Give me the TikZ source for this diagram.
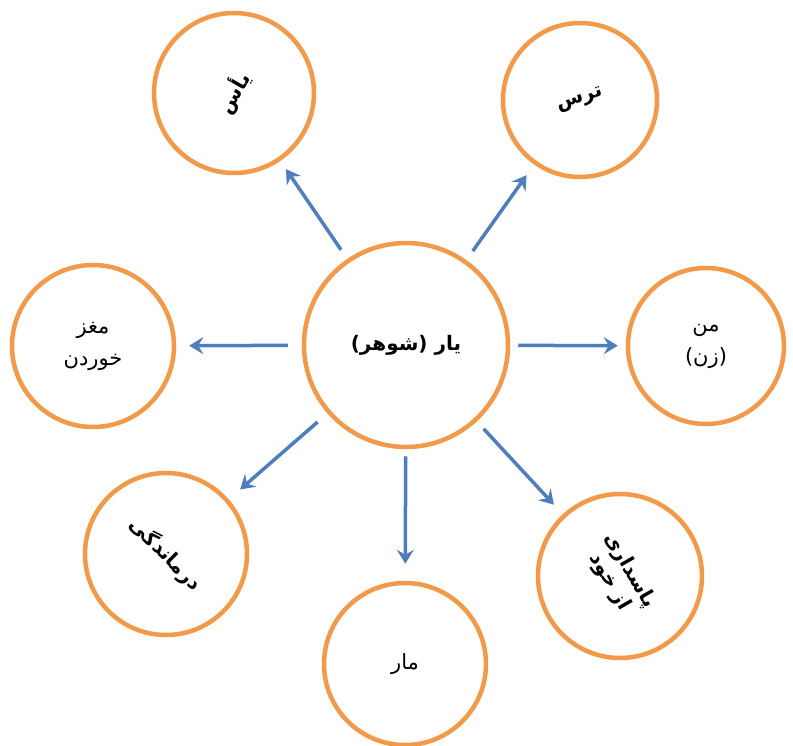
\documentclass[tikz,border=0pt]{standalone}
\usepackage{fontspec}
\TeXXeTstate=1
\newfontfamily\arabicfont[Script=Arabic]{DejaVu Sans}
\usetikzlibrary{arrows.meta}
\definecolor{corange}{HTML}{F39A4A}
\definecolor{cblue}{HTML}{4F7EBD}
\begin{document}
\begin{tikzpicture}[x=1pt,y=-1pt,
  bub/.style={circle,draw=corange,line width=4.5pt,inner sep=0pt,align=center,
    font=\arabicfont\fontsize{21}{32}\selectfont},
  bubb/.style={bub,font=\arabicfont\bfseries\fontsize{20}{27}\selectfont},
  arr/.style={draw=cblue,line width=3.5pt,-{Stealth[length=14pt,width=17pt,inset=5pt]}}]
\useasboundingbox[fill=white] (0,0) rectangle (793,745);
\node[bub,minimum size=204pt,font=\arabicfont\bfseries\fontsize{20}{24}\selectfont] (C) at (406,345) {\beginR یار (شوهر)\endR};
\node[bubb,minimum size=160pt] (yas) at (234,93) {\rotatebox{60}{\beginR یأس\endR}};
\node[bubb,minimum size=154pt] (tars) at (580,100) {\rotatebox{18}{\beginR ترس\endR}};
\node[bub,minimum size=162pt] (maghz) at (93,346) {\beginR مغز\endR\\\beginR خوردن\endR};
\node[bub,minimum size=156pt] (man) at (706,346) {\beginR من\endR\\\beginR (زن)\endR};
\node[bubb,minimum size=162pt] (darm) at (166,554) {\rotatebox{-45}{\beginR درماندگی\endR}};
\node[bubb,minimum size=164pt] (pas) at (620,576) {\rotatebox{-60}{\begin{tabular}{c}\beginR پاسداری\endR\\[-4pt]\beginR از خود\endR\end{tabular}}};
\node[bub,minimum size=162pt] (mar) at (405,664) {\beginR مار\endR};
\draw[arr,shorten <=11pt,shorten >=10pt] (C) -- (yas);
\draw[arr,shorten <=11pt,shorten >=13pt] (C) -- (tars);
\draw[arr,shorten <=14pt,shorten >=13pt] (C) -- (maghz);
\draw[arr,shorten <=8pt,shorten >=8pt] (C) -- (man);
\draw[arr,shorten <=13pt,shorten >=15pt] (C) -- (darm);
\draw[arr,shorten <=10pt,shorten >=13pt] (C) -- (pas);
\draw[arr,shorten <=7pt,shorten >=17pt] (C) -- (mar);
\end{tikzpicture}
\end{document}
